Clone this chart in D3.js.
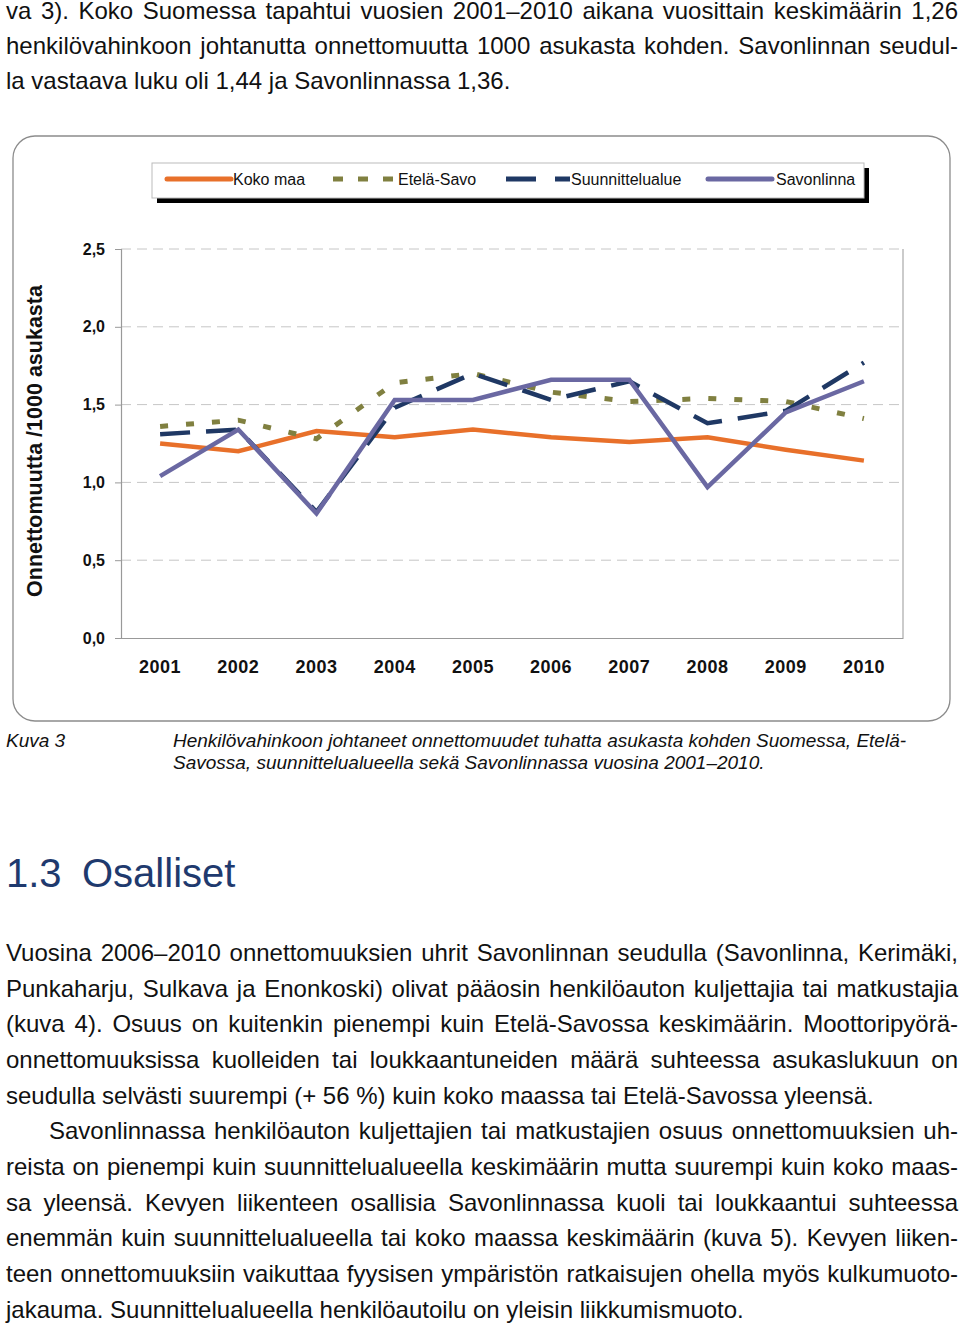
<!DOCTYPE html>
<html>
<head>
<meta charset="utf-8">
<script src="https://cdn.jsdelivr.net/npm/d3@7"></script>
<style>
html,body{margin:0;padding:0;background:#fff;}
svg{display:block;}
text{font-family:"Liberation Sans", Arial, Helvetica, sans-serif;}
</style>
</head>
<body>
<svg id="page" width="960" height="1327"></svg>
<script>
// ---- Data ----
const years = ["2001","2002","2003","2004","2005","2006","2007","2008","2009","2010"];
const kokoMaa = [1.25, 1.20, 1.33, 1.29, 1.34, 1.29, 1.26, 1.29, 1.21, 1.14];
const etelaSavo = [1.36, 1.40, 1.28, 1.64, 1.70, 1.58, 1.52, 1.54, 1.52, 1.41];
const suunnittelualue = [1.31, 1.34, 0.81, 1.48, 1.70, 1.53, 1.65, 1.38, 1.46, 1.77];
const savonlinna = [1.04, 1.34, 0.80, 1.53, 1.53, 1.66, 1.66, 0.97, 1.45, 1.65];
const seriesNames = ["Koko maa", "Etelä-Savo", "Suunnittelualue", "Savonlinna"];
const yTicks = [0, 0.5, 1.0, 1.5, 2.0, 2.5];
const yTitle = "Onnettomuutta /1000 asukasta";

const introLines = [
  "va 3). Koko Suomessa tapahtui vuosien 2001–2010 aikana vuosittain keskimäärin 1,26",
  "henkilövahinkoon johtanutta onnettomuutta 1000 asukasta kohden. Savonlinnan seudul-",
  "la vastaava luku oli 1,44 ja Savonlinnassa 1,36."
];
const captionLabel = "Kuva 3";
const captionLines = [
  "Henkilövahinkoon johtaneet onnettomuudet tuhatta asukasta kohden Suomessa, Etelä-",
  "Savossa, suunnittelualueella sekä Savonlinnassa vuosina 2001–2010."
];
const headingNum = "1.3";
const headingText = "Osalliset";
const bodyLines = [
  "Vuosina 2006–2010 onnettomuuksien uhrit Savonlinnan seudulla (Savonlinna, Kerimäki,",
  "Punkaharju, Sulkava ja Enonkoski) olivat pääosin henkilöauton kuljettajia tai matkustajia",
  "(kuva 4). Osuus on kuitenkin pienempi kuin Etelä-Savossa keskimäärin. Moottoripyörä-",
  "onnettomuuksissa kuolleiden tai loukkaantuneiden määrä suhteessa asukaslukuun on",
  "seudulla selvästi suurempi (+ 56 %) kuin koko maassa tai Etelä-Savossa yleensä.",
  "Savonlinnassa henkilöauton kuljettajien tai matkustajien osuus onnettomuuksien uh-",
  "reista on pienempi kuin suunnittelualueella keskimäärin mutta suurempi kuin koko maas-",
  "sa yleensä. Kevyen liikenteen osallisia Savonlinnassa kuoli tai loukkaantui suhteessa",
  "enemmän kuin suunnittelualueella tai koko maassa keskimäärin (kuva 5). Kevyen liiken-",
  "teen onnettomuuksiin vaikuttaa fyysisen ympäristön ratkaisujen ohella myös kulkumuoto-",
  "jakauma. Suunnittelualueella henkilöautoilu on yleisin liikkumismuoto."
];
const bodyJustify = [true,true,true,true,false,true,true,true,true,true,false];
const bodyIndent = [0,0,0,0,0,1,0,0,0,0,0];

// ---- Styles ----
const colors = ["#E8702A", "#808040", "#1F3864", "#6A68A2"];
const dashes = [null, "8,18", "30,16", null];
const widths = [4.5, 5, 4.5, 4.5];

const svg = d3.select("#page");

// justified text helper
function justifiedLine(g, str, x, y, right, justify, size) {
  const t = g.append("text").attr("x", x).attr("y", y)
    .attr("font-size", size).attr("fill", "#111").text(str);
  if (justify) {
    const nat = t.node().getComputedTextLength();
    const spaces = (str.match(/ /g) || []).length;
    if (spaces > 0) t.attr("word-spacing", ((right - x) - nat) / spaces);
  }
  return t;
}

// ---- Intro paragraph ----
const intro = svg.append("g");
introLines.forEach((l, i) => {
  justifiedLine(intro, l, 6, 19 + i * 35, 958, i < 2, 24);
});

// ---- Chart frame ----
svg.append("rect").attr("x", 13).attr("y", 136).attr("width", 937).attr("height", 585)
  .attr("rx", 22).attr("ry", 22).attr("fill", "#fff").attr("stroke", "#8c8c8c").attr("stroke-width", 1.3);

const plot = {left: 121, right: 903, top: 249, bottom: 638};
const x = d3.scaleBand().domain(years).range([plot.left, plot.right]);
const y = d3.scaleLinear().domain([0, 2.5]).range([plot.bottom, plot.top]);

// gridlines
svg.append("g").selectAll("line").data(yTicks.filter(d => d > 0)).join("line")
  .attr("x1", plot.left).attr("x2", plot.right)
  .attr("y1", d => y(d)).attr("y2", d => y(d))
  .attr("stroke", "#c6c6c6").attr("stroke-width", 1).attr("stroke-dasharray", "10,6");

// right border
svg.append("line").attr("x1", plot.right).attr("x2", plot.right)
  .attr("y1", plot.top).attr("y2", plot.bottom).attr("stroke", "#a8a8a8").attr("stroke-width", 1.2);

// Y axis
const yAxis = d3.axisLeft(y).tickValues(yTicks).tickSize(6).tickPadding(10)
  .tickFormat(d => d3.format(".1f")(d).replace(".", ","));
const yg = svg.append("g").attr("transform", `translate(${plot.left},0)`).call(yAxis);
yg.select(".domain").attr("stroke", "#999").attr("stroke-width", 1.2);
yg.selectAll(".tick line").attr("stroke", "#999");
yg.selectAll(".tick text").attr("font-size", 16).attr("font-weight", "bold")
  .attr("fill", "#111").attr("font-family", '"Liberation Sans", Arial, sans-serif');

// X axis
const xAxis = d3.axisBottom(x).tickSize(0).tickPadding(22);
const xg = svg.append("g").attr("transform", `translate(0,${plot.bottom})`).call(xAxis);
xg.select(".domain").attr("stroke", "#999").attr("stroke-width", 1.2);
xg.selectAll(".tick text").attr("font-size", 18).attr("font-weight", "bold")
  .attr("letter-spacing", 0.5)
  .attr("fill", "#111").attr("font-family", '"Liberation Sans", Arial, sans-serif');

// Y title
svg.append("text").attr("transform", "translate(42,441) rotate(-90)")
  .attr("text-anchor", "middle").attr("font-size", 21.5).attr("font-weight", "bold")
  .attr("fill", "#111").text(yTitle);

// Lines
const allSeries = [kokoMaa, etelaSavo, suunnittelualue, savonlinna];
const line = d3.line().x((d, i) => x(years[i]) + x.bandwidth() / 2).y(d => y(d));
allSeries.forEach((s, k) => {
  svg.append("path").datum(s).attr("d", line)
    .attr("fill", "none").attr("stroke", colors[k]).attr("stroke-width", widths[k])
    .attr("stroke-dasharray", dashes[k]).attr("stroke-linejoin", "miter");
});

// Legend
const lg = svg.append("g");
lg.append("rect").attr("x", 157).attr("y", 168).attr("width", 712).attr("height", 35).attr("fill", "#000");
lg.append("rect").attr("x", 152).attr("y", 163).attr("width", 712).attr("height", 35)
  .attr("fill", "#fff").attr("stroke", "#bbb").attr("stroke-width", 1);
const legX = [167, 333, 506, 708];
const legDash = [null, "10,15", "30,19", null];
const legTextOff = [66, 65, 65, 68];
seriesNames.forEach((n, k) => {
  lg.append("line").attr("x1", legX[k]).attr("x2", legX[k] + 64).attr("y1", 179).attr("y2", 179)
    .attr("stroke", colors[k]).attr("stroke-width", 5).attr("stroke-dasharray", legDash[k])
    .attr("stroke-linecap", k === 0 || k === 3 ? "round" : "butt");
  lg.append("text").attr("x", legX[k] + legTextOff[k])
    .attr("y", 185).attr("font-size", 16).attr("fill", "#111").text(n);
});

// Caption
const cap = svg.append("g");
cap.append("text").attr("x", 6).attr("y", 747).attr("font-size", 19).attr("font-style", "italic")
  .attr("fill", "#111").text(captionLabel);
captionLines.forEach((l, i) => {
  cap.append("text").attr("x", 173).attr("y", 747 + i * 22).attr("font-size", 19)
    .attr("font-style", "italic").attr("fill", "#111").text(l);
});

// Heading
const hd = svg.append("g");
hd.append("text").attr("x", 6).attr("y", 887).attr("font-size", 40).attr("fill", "#1F3A6E").text(headingNum);
hd.append("text").attr("x", 82).attr("y", 887).attr("font-size", 40).attr("fill", "#1F3A6E").text(headingText);

// Body
const body = svg.append("g");
bodyLines.forEach((l, i) => {
  justifiedLine(body, l, bodyIndent[i] ? 49 : 6, 961 + i * 35.65, 958, bodyJustify[i], 24);
});
</script>
</body>
</html>
